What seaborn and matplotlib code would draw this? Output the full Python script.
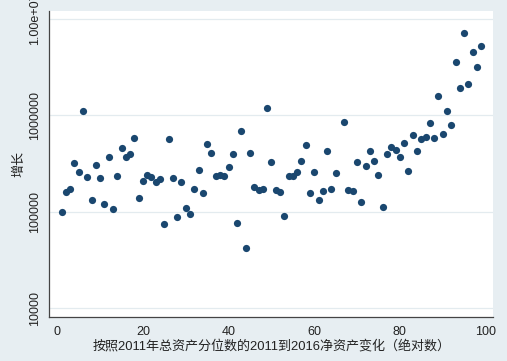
import numpy as np
import pandas as pd
import matplotlib
matplotlib.use('Agg')
import matplotlib.pyplot as plt
import seaborn as sns

# ─── Data ─────────────────────────────────────────────────────────────────────
pctile = [1, 2, 3, 4, 5, 6, 7, 8, 9, 10,
          11, 12, 13, 14, 15, 16, 17, 18, 19, 20,
          21, 22, 23, 24, 25, 26, 27, 28, 29, 30,
          31, 32, 33, 34, 35, 36, 37, 38, 39, 40,
          41, 42, 43, 44, 45, 46, 47, 48, 49, 50,
          51, 52, 53, 54, 55, 56, 57, 58, 59, 60,
          61, 62, 63, 64, 65, 67, 68, 69, 70,
          71, 72, 73, 74, 75, 76, 77, 78, 79, 80,
          81, 82, 83, 84, 85, 86, 87, 88, 89, 90,
          91, 92, 93, 94, 95, 96, 97, 98, 99]

growth = [100000, 161000, 172000, 320000, 260000, 1117000, 231000, 132000, 308000, 223000,
          120000, 366000, 106000, 236000, 455000, 369000, 394000, 582000, 140000, 208000,
          238000, 228000, 202000, 217000, 74000, 564000, 225000, 89000, 205000, 110000,
          95000, 172000, 273000, 157000, 500000, 406000, 234000, 242000, 233000, 291000,
          397000, 77000, 693000, 42000, 409000, 179000, 168000, 172000, 1191000, 328000,
          168000, 160000, 90000, 233000, 233000, 256000, 336000, 492000, 155000, 258000,
          133000, 163000, 427000, 172000, 250000, 847000, 167000, 164000, 330000,
          125000, 300000, 430000, 338000, 240000, 113000, 394000, 469000, 440000, 366000,
          516000, 262000, 621000, 430000, 568000, 592000, 826000, 586000, 1589000, 640000,
          1102000, 800000, 3606000, 1910000, 7161000, 2128000, 4539000, 3199000, 5248000]

y_ticks = [1e4, 1e5, 1e6, 1e7]
y_tick_labels = ['10000', '100000', '1000000', '1.00e+07']
x_ticks = [0, 20, 40, 60, 80, 100]

x_label = '按照2011年总资产分位数的2011到2016净资产变化（绝对数）'
y_label = '增长'

df = pd.DataFrame({'pctile': pctile, 'growth': growth})

# ─── Style ────────────────────────────────────────────────────────────────────
BG = '#e7eef2'
NAVY = '#1a476f'

sns.set_style('white')
plt.rcParams['font.family'] = ['Liberation Sans', 'Noto Sans CJK SC', 'DejaVu Sans']

fig = plt.figure(figsize=(5.07, 3.61), dpi=100, facecolor=BG)
ax = fig.add_axes([0.0972, 0.1227, 0.9724 - 0.0972, 0.9695 - 0.1227])
ax.set_facecolor('white')

sns.scatterplot(data=df, x='pctile', y='growth', ax=ax, color=NAVY,
                s=27, linewidth=0, zorder=3)

ax.set_yscale('log')
ax.set_xlim(-1.87, 101.75)
ax.set_ylim(10 ** 3.910, 10 ** 7.083)

ax.set_yticks(y_ticks)
ax.set_yticklabels(y_tick_labels, rotation=90, va='center')
ax.yaxis.set_minor_locator(matplotlib.ticker.NullLocator())
ax.set_xticks(x_ticks)

for y in y_ticks:
    ax.axhline(y, color='#e3ebef', lw=0.9, zorder=1)

for side in ['top', 'right']:
    ax.spines[side].set_visible(False)
for side in ['left', 'bottom']:
    ax.spines[side].set_color('#444444')
    ax.spines[side].set_linewidth(0.9)

ax.tick_params(axis='both', which='major', direction='out', length=3.6,
               width=0.8, color='#444444', labelsize=9, labelcolor='#222222')
ax.tick_params(axis='y', pad=2)
ax.tick_params(axis='x', pad=3)

ax.set_xlabel(x_label, fontsize=9.4, color='#222222', labelpad=1)
ax.set_ylabel(y_label, fontsize=9.4, color='#222222', labelpad=3)

fig.savefig('out.png', dpi=100, facecolor=BG)
